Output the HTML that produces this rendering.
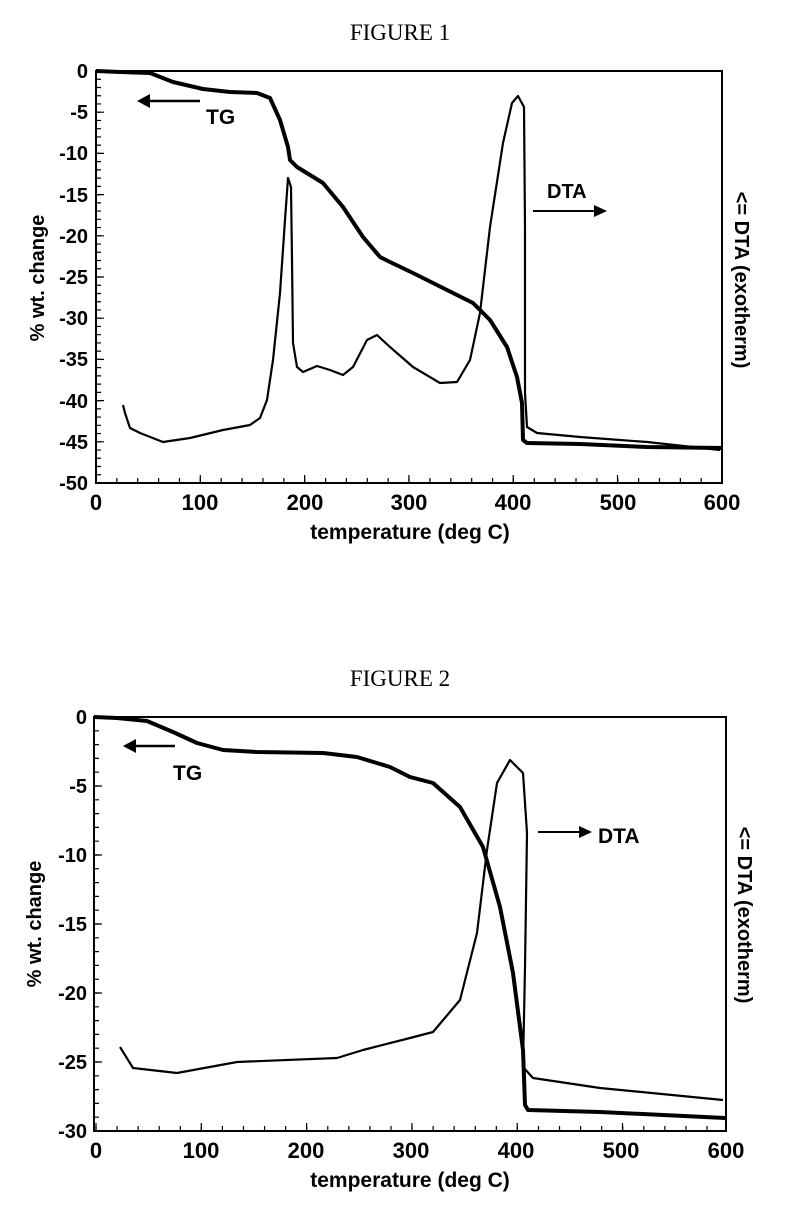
<!DOCTYPE html>
<html><head><meta charset="utf-8"><style>
html,body{margin:0;padding:0;background:#fff;}
svg{display:block;}
.t{font-family:"Liberation Sans",Arial,sans-serif;font-weight:bold;font-size:20px;fill:#000;}
.x{font-size:22px;}
.ti{font-family:"Liberation Serif","Times New Roman",serif;font-size:23px;fill:#000;}
</style></head><body>
<svg width="805" height="1208" viewBox="0 0 805 1208" xmlns="http://www.w3.org/2000/svg">
<rect width="805" height="1208" fill="#fff"/>
<!-- FIGURE 1 -->
<text class="ti" x="400" y="40" text-anchor="middle">FIGURE 1</text>
<rect x="96" y="71" width="626" height="412" fill="none" stroke="#000" stroke-width="2"/>
<line x1="98.5" y1="70.4" x2="98.5" y2="484" stroke="#000" stroke-width="5" stroke-dasharray="1.2 7.04"/>
<line x1="100" y1="70.4" x2="100" y2="484" stroke="#000" stroke-width="8" stroke-dasharray="1.2 40"/>
<line x1="95.4" y1="480.5" x2="723" y2="480.5" stroke="#000" stroke-width="5" stroke-dasharray="1.2 19.67"/>
<line x1="95.4" y1="479" x2="723" y2="479" stroke="#000" stroke-width="8" stroke-dasharray="1.2 103.1"/>
<g class="t" text-anchor="end">
<text x="88" y="78">0</text><text x="88" y="119">-5</text><text x="88" y="160">-10</text><text x="88" y="202">-15</text><text x="88" y="243">-20</text><text x="88" y="284">-25</text><text x="88" y="325">-30</text><text x="88" y="366">-35</text><text x="88" y="408">-40</text><text x="88" y="449">-45</text><text x="88" y="490">-50</text>
</g>
<g class="t x" text-anchor="middle">
<text x="96" y="510">0</text><text x="200" y="510">100</text><text x="305" y="510">200</text><text x="409" y="510">300</text><text x="513" y="510">400</text><text x="618" y="510">500</text><text x="722" y="510">600</text>
<text x="410" y="539" style="font-size:21px">temperature (deg C)</text>
<text transform="translate(44,278) rotate(-90)" style="font-size:20px">% wt. change</text>
<text transform="translate(735,280) rotate(90)" style="font-size:20px">&lt;= DTA (exotherm)</text>
</g>
<path d="M96,71 L120,72 L150,73 L173,82 L203,89 L230,92 L257,93 L270,98 L280,120 L288,147 L290,160 L297,167 L323,183 L343,207 L363,237 L380,257 L390,262 L413,273 L447,290 L473,303 L490,320 L507,347 L517,377 L522,403 L523,440 L527,443 L580,444 L647,447 L722,448" fill="none" stroke="#000" stroke-width="4" stroke-linejoin="round"/>
<path d="M123,405 L125,413 L130,428 L140,433 L163,442 L190,438 L223,430 L250,425 L260,418 L267,400 L273,360 L280,293 L285,220 L288,178 L291,187 L292,260 L293,343 L297,367 L303,372 L317,366 L330,370 L343,375 L353,367 L367,340 L377,335 L390,347 L413,367 L440,383 L457,382 L470,360 L480,313 L490,227 L503,143 L512,103 L518,96 L524,107 L525,227 L525,393 L527,427 L537,433 L580,437 L647,442 L720,450" fill="none" stroke="#000" stroke-width="2.2" stroke-linejoin="round"/>
<line x1="146" y1="101" x2="200" y2="101" stroke="#000" stroke-width="2.5"/>
<polygon points="137,101 150,94 150,108" fill="#000"/>
<text class="t" x="206" y="124" style="font-size:21px">TG</text>
<line x1="533" y1="211" x2="596" y2="211" stroke="#000" stroke-width="2"/>
<polygon points="607,211 594,205 594,217" fill="#000"/>
<text class="t" x="547" y="198" style="font-size:20px">DTA</text>

<!-- FIGURE 2 -->
<text class="ti" x="400" y="686" text-anchor="middle">FIGURE 2</text>
<rect x="94" y="717" width="632" height="414" fill="none" stroke="#000" stroke-width="2"/>
<line x1="96.5" y1="716.4" x2="96.5" y2="1132" stroke="#000" stroke-width="5" stroke-dasharray="1.2 12.6"/>
<line x1="98" y1="716.4" x2="98" y2="1132" stroke="#000" stroke-width="8" stroke-dasharray="1.2 67.8"/>
<line x1="95.4" y1="1128.5" x2="727" y2="1128.5" stroke="#000" stroke-width="5" stroke-dasharray="1.2 19.87"/>
<line x1="95.4" y1="1127" x2="727" y2="1127" stroke="#000" stroke-width="8" stroke-dasharray="1.2 104.1"/>
<g class="t" text-anchor="end">
<text x="87" y="724">0</text><text x="87" y="793">-5</text><text x="87" y="862">-10</text><text x="87" y="931">-15</text><text x="87" y="1000">-20</text><text x="87" y="1069">-25</text><text x="87" y="1138">-30</text>
</g>
<g class="t x" text-anchor="middle">
<text x="96" y="1158">0</text><text x="201" y="1158">100</text><text x="306" y="1158">200</text><text x="411" y="1158">300</text><text x="516" y="1158">400</text><text x="621" y="1158">500</text><text x="726" y="1158">600</text>
<text x="410" y="1187" style="font-size:21px">temperature (deg C)</text>
<text transform="translate(41,924) rotate(-90)" style="font-size:20px">% wt. change</text>
<text transform="translate(738,915) rotate(90)" style="font-size:20px">&lt;= DTA (exotherm)</text>
</g>
<path d="M94,717 L117,718 L147,721 L173,732 L197,743 L223,750 L257,752 L323,753 L357,757 L390,767 L410,777 L433,783 L460,807 L483,847 L500,907 L513,973 L523,1050 L525,1105 L528,1110 L600,1112 L725,1118" fill="none" stroke="#000" stroke-width="4" stroke-linejoin="round"/>
<path d="M120,1047 L133,1068 L177,1073 L237,1062 L337,1058 L363,1050 L410,1038 L433,1032 L460,1000 L477,933 L487,850 L497,783 L510,760 L523,773 L527,833 L525,967 L523,1067 L533,1078 L600,1088 L723,1100" fill="none" stroke="#000" stroke-width="2.2" stroke-linejoin="round"/>
<line x1="132" y1="746" x2="175" y2="746" stroke="#000" stroke-width="2.5"/>
<polygon points="123,746 136,739 136,753" fill="#000"/>
<text class="t" x="173" y="780" style="font-size:21px">TG</text>
<line x1="538" y1="832" x2="582" y2="832" stroke="#000" stroke-width="2"/>
<polygon points="592,832 579,826 579,838" fill="#000"/>
<text class="t" x="598" y="843" style="font-size:21px">DTA</text>
</svg>
</body></html>
